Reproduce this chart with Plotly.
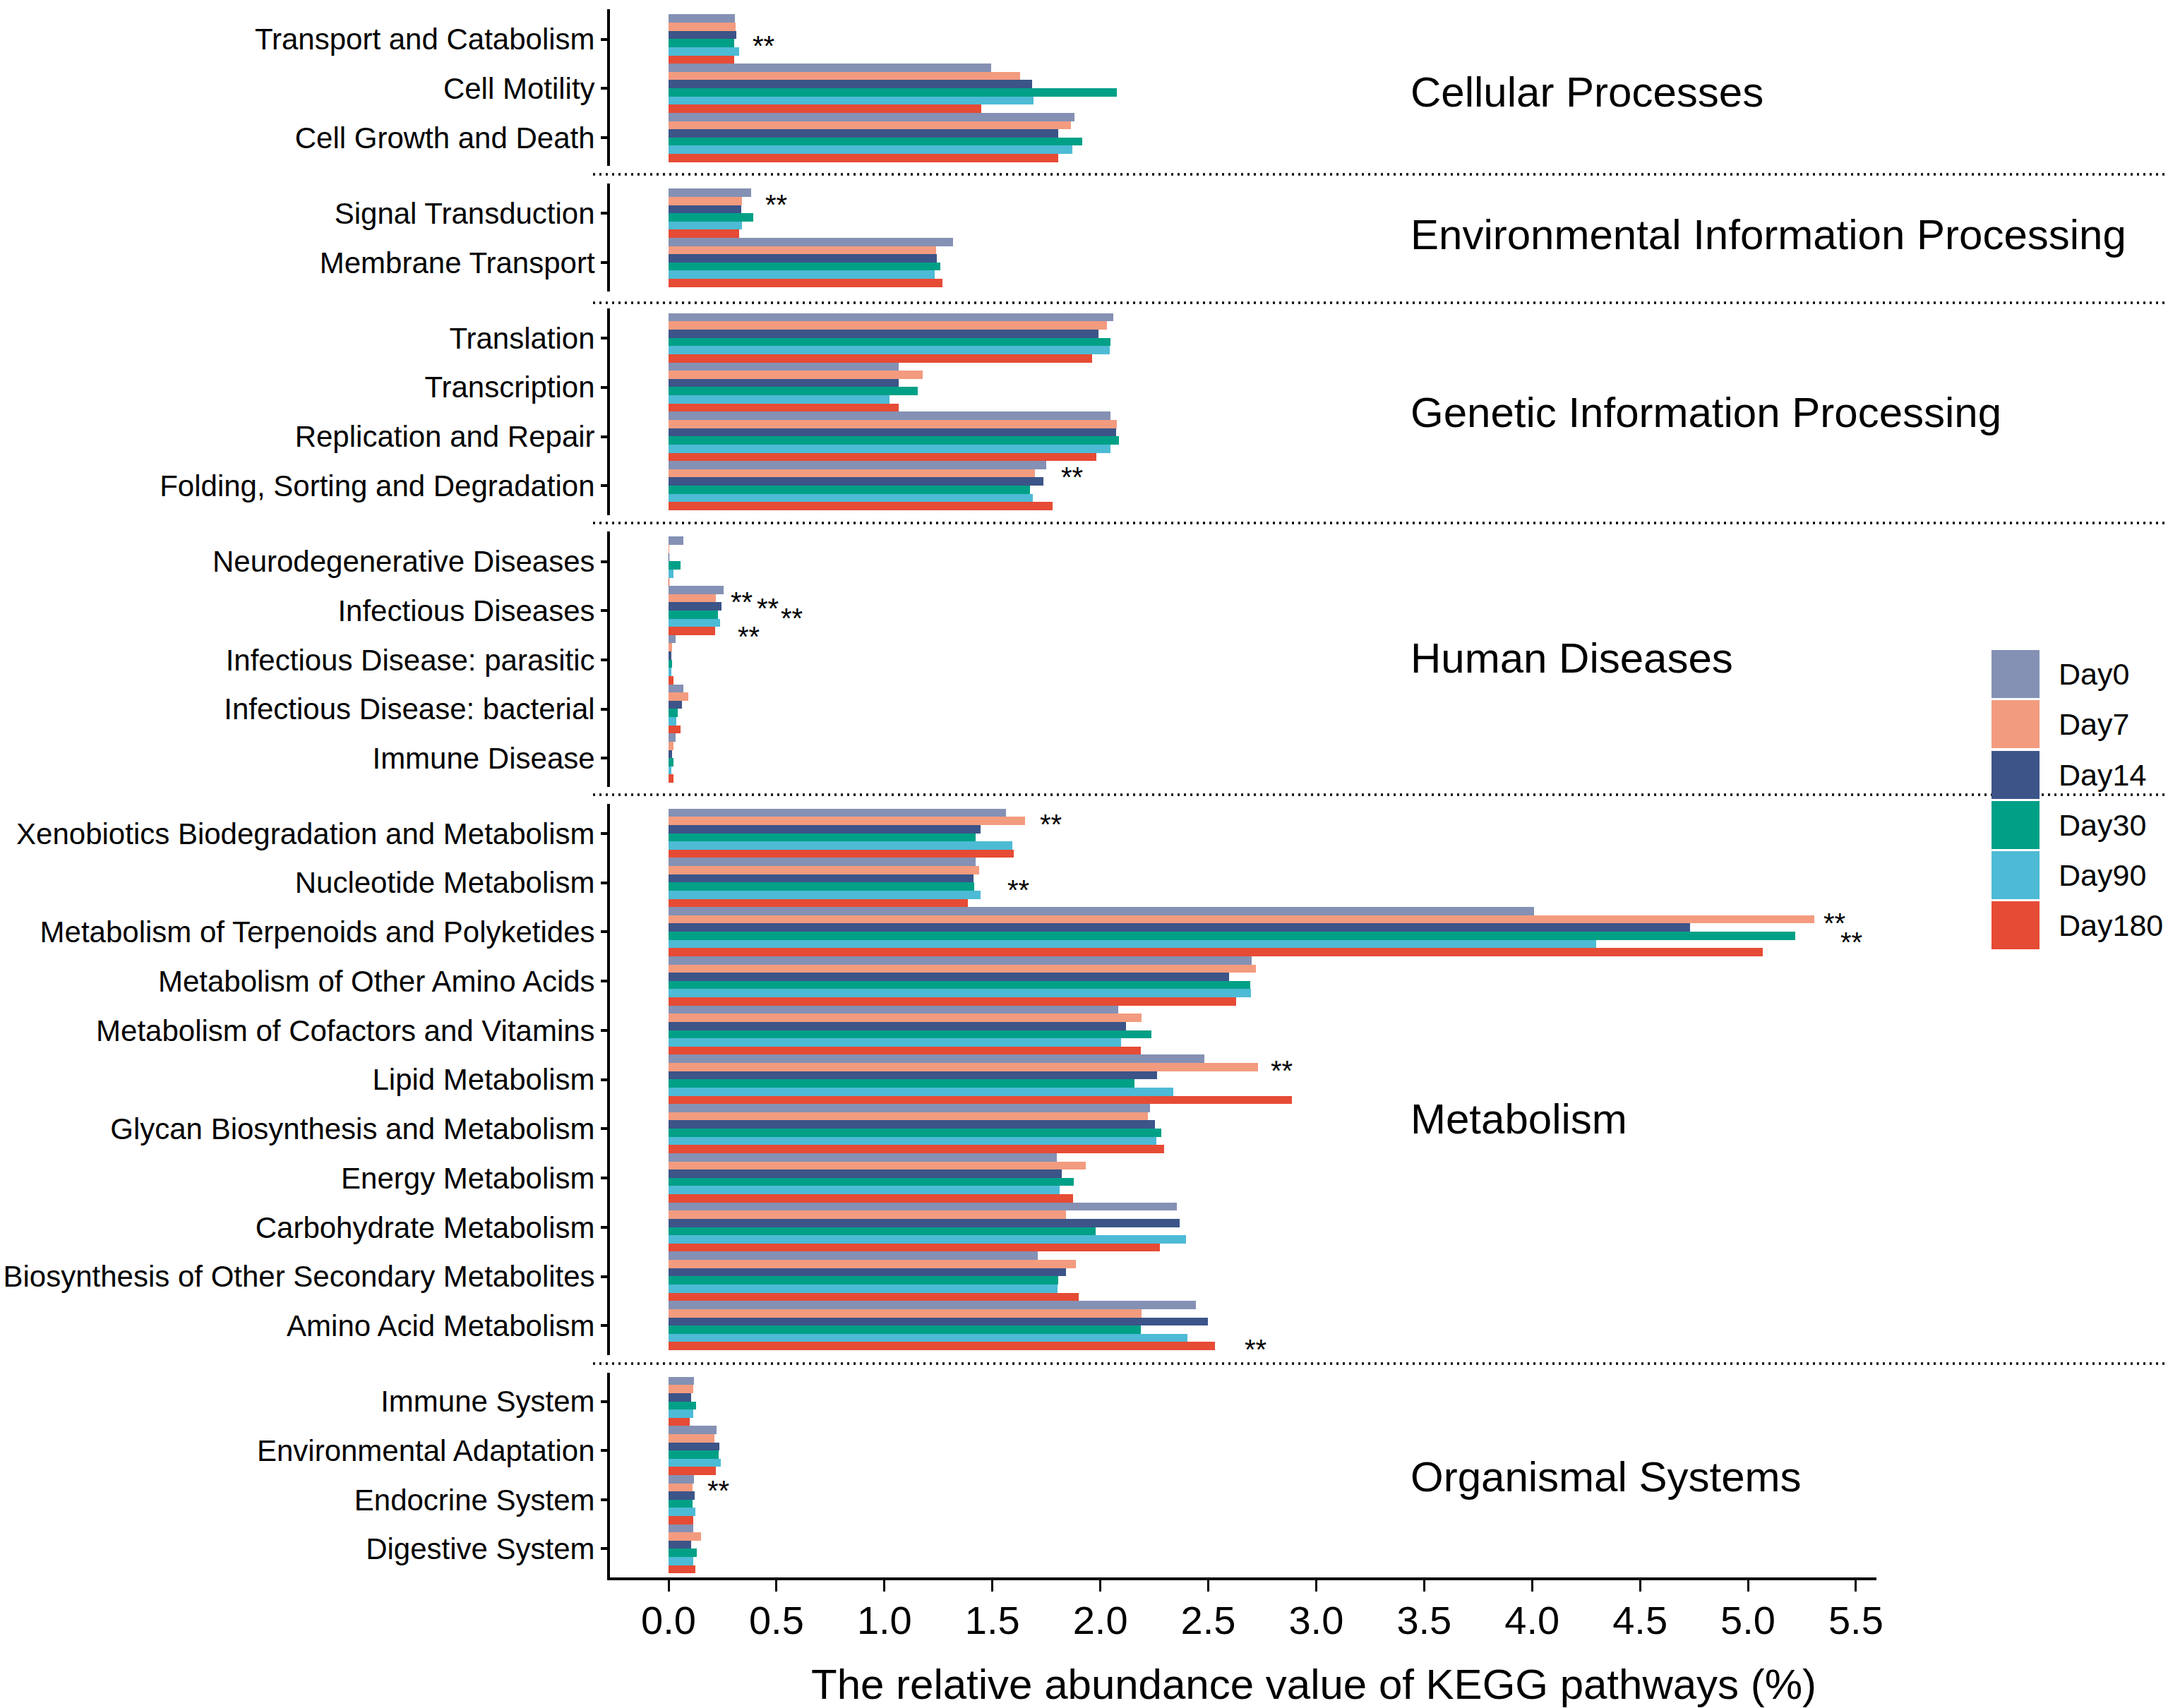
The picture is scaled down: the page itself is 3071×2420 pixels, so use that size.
import plotly.graph_objects as go

# ---------------- data ----------------
DAYS = ["Day0", "Day7", "Day14", "Day30", "Day90", "Day180"]
COLORS = ["#8491B4", "#F39B7F", "#3C5488", "#00A087", "#4DBBD5", "#E64B35"]

GROUPS = ["Cellular Processes", "Environmental Information Processing",
          "Genetic Information Processing", "Human Diseases", "Metabolism",
          "Organismal Systems"]

cellular_pathways = ["Transport and Catabolism", "Cell Motility", "Cell Growth and Death"]
cellular_values = [
    [0.308, 0.311, 0.314, 0.305, 0.326, 0.305],
    [1.494, 1.628, 1.683, 2.076, 1.692, 1.448],
    [1.881, 1.863, 1.805, 1.916, 1.872, 1.805],
]

environmental_pathways = ["Signal Transduction", "Membrane Transport"]
environmental_values = [
    [0.384, 0.340, 0.337, 0.392, 0.340, 0.326],
    [1.317, 1.238, 1.241, 1.259, 1.233, 1.270],
]

genetic_pathways = ["Translation", "Transcription", "Replication and Repair",
                    "Folding, Sorting and Degradation"]
genetic_values = [
    [2.061, 2.032, 1.991, 2.047, 2.044, 1.962],
    [1.067, 1.177, 1.067, 1.154, 1.023, 1.067],
    [2.047, 2.078, 2.073, 2.087, 2.047, 1.983],
    [1.750, 1.698, 1.738, 1.674, 1.686, 1.779],
]

human_pathways = ["Neurodegenerative Diseases", "Infectious Diseases",
                  "Infectious Disease: parasitic", "Infectious Disease: bacterial",
                  "Immune Disease"]
human_values = [
    [0.069, 0.003, 0.003, 0.056, 0.024, 0.002],
    [0.254, 0.219, 0.246, 0.228, 0.238, 0.215],
    [0.033, 0.016, 0.014, 0.017, 0.013, 0.023],
    [0.069, 0.091, 0.063, 0.042, 0.036, 0.056],
    [0.033, 0.024, 0.015, 0.022, 0.013, 0.022],
]

metabolism_pathways = ["Xenobiotics Biodegradation and Metabolism", "Nucleotide Metabolism",
                       "Metabolism of Terpenoids and Polyketides",
                       "Metabolism of Other Amino Acids",
                       "Metabolism of Cofactors and Vitamins", "Lipid Metabolism",
                       "Glycan Biosynthesis and Metabolism", "Energy Metabolism",
                       "Carbohydrate Metabolism",
                       "Biosynthesis of Other Secondary Metabolites",
                       "Amino Acid Metabolism"]
metabolism_values = [
    [1.562, 1.650, 1.447, 1.424, 1.592, 1.600],
    [1.424, 1.439, 1.412, 1.416, 1.447, 1.385],
    [4.010, 5.307, 4.731, 5.219, 4.298, 5.069],
    [2.701, 2.721, 2.598, 2.694, 2.698, 2.629],
    [2.084, 2.191, 2.118, 2.237, 2.095, 2.187],
    [2.483, 2.732, 2.264, 2.157, 2.337, 2.886],
    [2.229, 2.222, 2.252, 2.283, 2.259, 2.294],
    [1.797, 1.933, 1.820, 1.878, 1.811, 1.875],
    [2.355, 1.840, 2.369, 1.980, 2.398, 2.276],
    [1.709, 1.887, 1.840, 1.805, 1.802, 1.901],
    [2.442, 2.192, 2.497, 2.189, 2.404, 2.532],
]

organismal_pathways = ["Immune System", "Environmental Adaptation", "Endocrine System",
                       "Digestive System"]
organismal_values = [
    [0.119, 0.116, 0.103, 0.126, 0.114, 0.099],
    [0.222, 0.214, 0.234, 0.232, 0.241, 0.219],
    [0.118, 0.111, 0.121, 0.110, 0.125, 0.114],
    [0.116, 0.151, 0.106, 0.130, 0.114, 0.124],
]

X_TICKS = [0.0, 0.5, 1.0, 1.5, 2.0, 2.5, 3.0, 3.5, 4.0, 4.5, 5.0, 5.5]
X_TICK_LABELS = ["0.0", "0.5", "1.0", "1.5", "2.0", "2.5", "3.0", "3.5", "4.0", "4.5", "5.0", "5.5"]

# significance marks: panel, pathway, bar slot (0=Day0 .. 5=Day180), x position
sig_panel = [0, 1, 2, 3, 3, 3, 3, 4, 4, 4, 4, 4, 4, 5]
sig_pathway = ["Transport and Catabolism", "Signal Transduction",
               "Folding, Sorting and Degradation",
               "Infectious Diseases", "Infectious Diseases", "Infectious Diseases",
               "Infectious Diseases",
               "Xenobiotics Biodegradation and Metabolism", "Nucleotide Metabolism",
               "Metabolism of Terpenoids and Polyketides",
               "Metabolism of Terpenoids and Polyketides",
               "Lipid Metabolism", "Amino Acid Metabolism", "Endocrine System"]
sig_slot = [2.9, 1, 1, 1, 1.75, 3, 5.2, 1, 3, 1, 3.3, 1, 5, 1]
sig_x = [0.44, 0.50, 1.87, 0.34, 0.46, 0.57, 0.37, 1.77, 1.62, 5.40, 5.48, 2.84, 2.72, 0.23]

# ---------------- layout geometry (pixels) ----------------
W, H = 3071, 2420
PLOT_L, PLOT_R = 864, 2658
PLOT_T, PLOT_B = 13, 2235
PW, PH = PLOT_R - PLOT_L, PLOT_B - PLOT_T
X_ZERO_PX, X_UNIT_PX = 947.0, 305.8
X_RANGE = [(PLOT_L - X_ZERO_PX) / X_UNIT_PX, (PLOT_R - X_ZERO_PX) / X_UNIT_PX]

# axis-line top/bottom, bars top/bottom, title centre y
panel_px = [
    (13.3, 235.0, 20.7, 230.0, 131),
    (260.0, 413.3, 267.3, 406.7, 333),
    (437.3, 730.0, 444.0, 723.3, 584),
    (753.3, 1115.0, 760.7, 1109.3, 932),
    (1139.3, 1920.0, 1146.0, 1913.3, 1585),
    (1945.0, 2235.0, 1950.7, 2229.3, 2092),
]
separators_px = [247, 429, 741, 1126, 1932]

panels = [
    (cellular_pathways, cellular_values),
    (environmental_pathways, environmental_values),
    (genetic_pathways, genetic_values),
    (human_pathways, human_values),
    (metabolism_pathways, metabolism_values),
    (organismal_pathways, organismal_values),
]

FONT = "Liberation Sans, Arial, sans-serif"


def py(p):
    return (PLOT_B - p) / PH


def px(p):
    return (p - PLOT_L) / PW


fig = go.Figure()
layout_axes = {}
annotations = []
shapes = []

for k, (names, vals) in enumerate(panels):
    n = len(names)
    yname = "y" if k == 0 else f"y{k + 1}"
    for j, day in enumerate(DAYS):
        fig.add_trace(go.Bar(
            y=list(range(n)), x=[row[j] for row in vals], orientation="h",
            name=day, marker=dict(color=COLORS[j], line=dict(width=0)),
            yaxis=yname, xaxis="x", showlegend=False,
        ))
    a_top, a_bot, b_top, b_bot, t_y = panel_px[k]
    slot = (b_bot - b_top) / n
    pad_t = (b_top - a_top) / slot
    pad_b = (a_bot - b_bot) / slot
    layout_axes["yaxis" if k == 0 else f"yaxis{k + 1}"] = dict(
        domain=[max(0, py(a_bot)), min(1, py(a_top))],
        range=[n - 0.5 + pad_b, -0.5 - pad_t],
        tickmode="array", tickvals=list(range(n)), ticktext=names,
        showline=True, linecolor="black", linewidth=4,
        ticks="outside", ticklen=9, tickwidth=4, tickcolor="black",
        tickfont=dict(size=42, color="black", family=FONT),
        showgrid=False, zeroline=False, anchor="x", fixedrange=True,
        automargin=False,
    )
    annotations.append(dict(
        text=GROUPS[k], xref="paper", yref="paper", x=px(1996), y=py(t_y),
        xanchor="left", yanchor="middle", showarrow=False,
        font=dict(size=60, color="black", family=FONT),
    ))

# significance stars
for p, name, s, xv in zip(sig_panel, sig_pathway, sig_slot, sig_x):
    names = panels[p][0]
    i = names.index(name)
    yref = "y" if p == 0 else f"y{p + 1}"
    annotations.append(dict(
        text="**", xref="x", yref=yref, x=xv, y=i + (s - 2.5) / 6,
        xanchor="center", yanchor="middle", showarrow=False, yshift=-5,
        font=dict(size=40, color="black", family=FONT),
    ))

# dotted separators
for s in separators_px:
    shapes.append(dict(
        type="line", xref="paper", yref="paper", x0=px(840), x1=px(3071),
        y0=py(s), y1=py(s), line=dict(color="black", width=3.5, dash="3px,6px"),
    ))

# manual legend
leg_tops = [921, 992, 1064, 1135, 1206, 1277]
for j, day in enumerate(DAYS):
    t = leg_tops[j]
    shapes.append(dict(
        type="rect", xref="paper", yref="paper", x0=px(2821), x1=px(2889),
        y0=py(t + 68), y1=py(t), fillcolor=COLORS[j], line=dict(width=0),
    ))
    annotations.append(dict(
        text=day, xref="paper", yref="paper", x=px(2914), y=py(t + 34),
        xanchor="left", yanchor="middle", showarrow=False,
        font=dict(size=43, color="black", family=FONT),
    ))

# x-axis title
annotations.append(dict(
    text="The relative abundance value of KEGG pathways (%)", xref="paper", yref="paper",
    x=px(1861), y=py(2386), xanchor="center", yanchor="middle", showarrow=False,
    font=dict(size=60, color="black", family=FONT),
))

fig.update_layout(
    width=W, height=H,
    margin=dict(l=PLOT_L, r=W - PLOT_R, t=PLOT_T, b=H - PLOT_B, pad=0, autoexpand=False),
    paper_bgcolor="white", plot_bgcolor="white",
    barmode="group", bargap=0, bargroupgap=0,
    showlegend=False,
    font=dict(family=FONT, color="black"),
    xaxis=dict(
        range=X_RANGE, tickmode="array", tickvals=X_TICKS, ticktext=X_TICK_LABELS,
        showline=True, linecolor="black", linewidth=4,
        ticks="outside", ticklen=16, tickwidth=3, tickcolor="black",
        ticklabelstandoff=-7,
        tickfont=dict(size=56, color="black", family=FONT),
        showgrid=False, zeroline=False, anchor="y6", fixedrange=True,
        automargin=False,
    ),
    annotations=annotations, shapes=shapes,
    **layout_axes,
)

fig.write_html("out.html", post_script="document.body.style.margin='0';",
               config={"displayModeBar": False})
